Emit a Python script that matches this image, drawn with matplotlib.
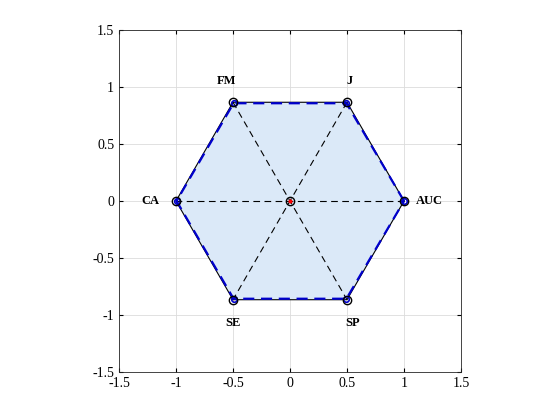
import numpy as np
import matplotlib.pyplot as plt

plt.rcParams['font.family'] = ['Liberation Serif', 'DejaVu Serif']

labels = ['AUC', 'J', 'FM', 'CA', 'SE', 'SP']
scores = [1.0, 0.99, 0.99, 0.995, 0.99, 0.99]
ticks = [-1.5, -1, -0.5, 0, 0.5, 1, 1.5]
tick_labels = ['-1.5', '-1', '-0.5', '0', '0.5', '1', '1.5']

angles = np.deg2rad(np.arange(len(labels)) * 60)
ux, uy = np.cos(angles), np.sin(angles)
sx, sy = np.array(scores) * ux, np.array(scores) * uy

fig = plt.figure(figsize=(5.6, 4.2), dpi=100)
ax = fig.add_axes([0.2125, 0.1143, 0.6107, 0.8143])

# filled score polygon
ax.fill(np.append(sx, sx[0]), np.append(sy, sy[0]), color='#dbe9f8', zorder=1)
ax.plot(np.append(sx, sx[0]), np.append(sy, sy[0]), color='#0000cc', ls=(0, (5, 3)), lw=1.6, zorder=3)
ax.plot(sx, sy, 'o', mfc='none', mec='#0000cc', ms=4, mew=1.2, zorder=4)

# unit hexagon
ax.plot(np.append(ux, ux[0]), np.append(uy, uy[0]), color='k', lw=0.8, zorder=2)
ax.plot(ux, uy, 'o', mfc='none', mec='k', ms=6, mew=1, zorder=5)

# diagonals through centre
for i in range(3):
    ax.plot([ux[i], ux[i + 3]], [uy[i], uy[i + 3]], color='k', ls=(0, (6, 4)), lw=0.8, zorder=2)

# centre marker
ax.plot(0, 0, 'o', mfc='none', mec='k', ms=6, mew=1, zorder=5)
ax.plot(0, 0, '.', color='red', ms=4, zorder=6)

# labels
off = {'AUC': (0.1, 0, 'left', 'center'), 'J': (0.02, 0.13, 'center', 'bottom'),
       'FM': (-0.06, 0.13, 'center', 'bottom'), 'CA': (-0.15, 0, 'right', 'center'),
       'SE': (0, -0.15, 'center', 'top'), 'SP': (0.05, -0.15, 'center', 'top')}
for lab, x, y in zip(labels, ux, uy):
    dx, dy, ha, va = off[lab]
    ax.text(x + dx, y + dy, lab, ha=ha, va=va, fontsize=9, fontweight='bold')

ax.set_xlim(-1.5, 1.5)
ax.set_ylim(-1.5, 1.5)
ax.set_xticks(ticks)
ax.set_yticks(ticks)
ax.set_xticklabels(tick_labels)
ax.set_yticklabels(tick_labels)
ax.grid(True, color='#dcdcdc', lw=0.6)
ax.set_axisbelow(True)
ax.tick_params(direction='in', length=3, labelsize=10, top=True, right=True, labeltop=False, labelright=False)
for s in ax.spines.values():
    s.set_linewidth(0.6)
    s.set_color('#262626')

fig.savefig('out.png', dpi=100)
